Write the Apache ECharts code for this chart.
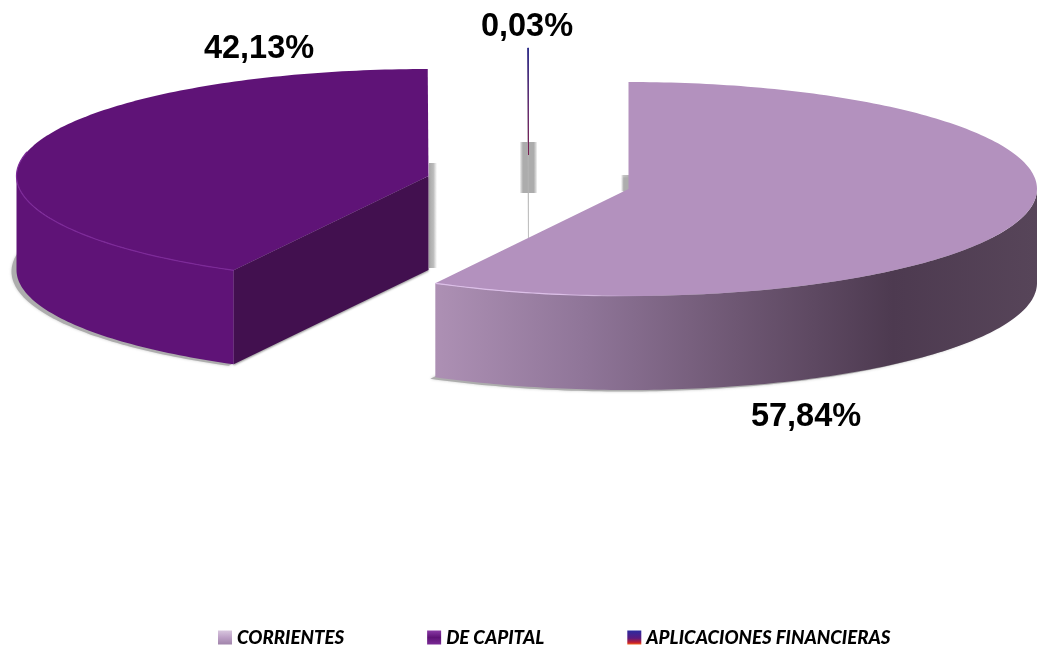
<!DOCTYPE html>
<html><head><meta charset="utf-8">
<style>html,body{margin:0;padding:0;background:#fff}#c{width:1052px;height:651px}</style>
<script src="https://cdn.jsdelivr.net/npm/echarts@6/dist/echarts.min.js"></script>
</head><body><div id="c"></div>
<script>
const categories = ['CORRIENTES', 'DE CAPITAL', 'APLICACIONES FINANCIERAS'];
const values = [57.84, 42.13, 0.03];

const total = values.reduce((a, b) => a + b, 0);
const DEPTH = 94;
const layout = [
  { cx: 628.5, cy: 189, rx: 408.5, ry: 107, lx: 806, ly: 417, z: 3,
    strip: { x: 621, y: 175, w: 8, h: 16, flip: true } },
  { cx: 428.5, cy: 176, rx: 412, ry: 107, lx: 259, ly: 49, z: 1,
    strip: { x: 429, y: 163, w: 8, h: 105 } },
  { cx: 528.5, cy: 155, rx: 408, ry: 107, lx: 527, ly: 27, z: 2,
    strip: { x: 520, y: 142, w: 17, h: 51, both: true } }
];
const grad = (x, y, x2, y2, stops) => ({ type: 'linear', x, y, x2, y2,
  colorStops: stops.map(s => ({ offset: s[0], color: s[1] })) });
const looks = [
  { top: '#b391be', rimRange: [178, 208.2],
    rim: grad(0, 0, 1, 0, [[0, '#dcbfe8'], [0.6, '#dcbfe8'], [1, 'rgba(220,191,232,0)']]),
    wall: grad(0, 0, 1, 0, [[0, '#ad90b4'], [0.25, '#8f7598'], [0.5, '#6e5773'], [0.76, '#4d3a50'], [1, '#574559']]),
    cut: '#8f7598' },
  { top: '#5f1377', rimRange: [208.2, 283], rim: '#7d2a99',
    wall: '#5f1377', cut: '#42104f', cutShadow: true },
  { top: '#4a2a80', stroke: grad(0, 0, 0, 1, [[0, '#2f2f8c'], [0.6, '#6a2a70'], [1, '#7a1f50']]),
    wall: '#a8a8a8', cut: '#b4b4b4' }
];
const legendIcons = [
  grad(0, 0, 0, 1, [[0, '#d8c6de'], [0.5, '#bda0c6'], [1, '#a084aa']]),
  grad(0, 0, 0, 1, [[0, '#8a3aa6'], [0.5, '#5f1377'], [1, '#7a2a95']]),
  grad(0, 0, 0, 1, [[0, '#2b2ba0'], [0.55, '#5a1a80'], [0.85, '#c01e30'], [1, '#f0601a']])
];

const start = [];
values.reduce((acc, v, i) => { start[i] = acc; return acc + v / total * 360; }, 0);

function pt(l, deg, dy) {
  const r = deg * Math.PI / 180;
  return [l.cx + l.rx * Math.sin(r), l.cy - l.ry * Math.cos(r) + (dy || 0)];
}
function arc(l, a, b, dy) {
  const out = [], n = Math.max(1, Math.ceil(Math.abs(b - a)));
  for (let i = 0; i <= n; i++) out.push(pt(l, a + (b - a) * i / n, dy));
  return out;
}

function makeRender(i) {
  return function () {
    const l = layout[i], look = looks[i];
    const a = start[i], b = a + values[i] / total * 360;
    const children = [];
    const s = l.strip;
    // pillar shadow behind the slice
    const stripFill = s.both
      ? grad(0, 0, 1, 0, [[0, 'rgba(150,150,150,0.1)'], [0.18, '#acacac'], [0.8, '#acacac'], [1, 'rgba(150,150,150,0.1)']])
      : s.flip
        ? grad(0, 0, 1, 0, [[0, 'rgba(190,190,190,0)'], [0.3, '#c4c4c4'], [1, '#b4b4b4']])
        : grad(0, 0, 1, 0, [[0, '#a8a8a8'], [0.55, '#bcbcbc'], [1, 'rgba(190,190,190,0)']]);
    children.push({ type: 'rect', shape: { x: s.x, y: s.y, width: s.w, height: s.h }, silent: true,
      style: { fill: stripFill } });
    const wallA = Math.max(a, 90), wallB = Math.min(b, 270);
    // ground shadow, a displaced copy of the bottom face
    if (wallB > wallA) {
      const sh = Object.assign({}, l, { cx: l.cx - 5 });
      children.push({ type: 'polygon', silent: true,
        shape: { points: [[sh.cx, sh.cy + DEPTH + 1.5]].concat(arc(sh, a, b, DEPTH + 1.5)) },
        style: { fill: '#adadad', shadowBlur: 3, shadowColor: 'rgba(150,150,150,0.5)' } });
    }
    // cut face turned towards the viewer
    if (Math.sin(a * Math.PI / 180) < 0) {
      const e = pt(l, a);
      const st = { fill: look.cut };
      if (look.stroke) { st.stroke = look.cut; st.lineWidth = 0.6; }
      if (look.cutShadow) { st.shadowBlur = 2; st.shadowOffsetY = 1.5; st.shadowColor = 'rgba(110,110,110,0.6)'; }
      children.push({ type: 'polygon', silent: true,
        shape: { points: [[l.cx, l.cy], e, [e[0], e[1] + DEPTH], [l.cx, l.cy + DEPTH]] }, style: st });
    }
    // outer wall
    if (wallB > wallA) {
      children.push({ type: 'polygon', silent: true,
        shape: { points: arc(l, wallA, wallB).concat(arc(l, wallB, wallA, DEPTH)) },
        style: { fill: look.wall } });
    }
    // top face
    children.push({ type: 'polygon', silent: true,
      shape: { points: [[l.cx, l.cy]].concat(arc(l, a, b)) },
      style: look.stroke ? { fill: look.top, stroke: look.stroke, lineWidth: 1 } : { fill: look.top } });
    // rim highlight
    if (look.rim) {
      children.push({ type: 'polyline', silent: true,
        shape: { points: arc(l, look.rimRange[0], look.rimRange[1]) },
        style: { fill: null, stroke: look.rim, lineWidth: 1.2 } });
    }
    // percentage label
    children.push({ type: 'text', silent: true, x: l.lx, y: l.ly,
      style: { text: values[i].toFixed(2).replace('.', ',') + '%', fill: '#000', align: 'center', verticalAlign: 'middle',
        font: 'bold 32.5px "Liberation Sans", Arial, sans-serif' } });
    return { type: 'group', children };
  };
}

const chart = echarts.init(document.getElementById('c'), null, { renderer: 'canvas' });
chart.setOption({
  animation: false,
  backgroundColor: '#fff',
  tooltip: { show: false },
  legend: {
    left: 213, top: 623, itemWidth: 14, itemHeight: 14, itemGap: 83, itemStyle: { borderWidth: 0 },
    icon: 'rect', selectedMode: false,
    textStyle: { fontFamily: 'Lato', fontWeight: 900, fontStyle: 'italic', fontSize: 18.7, color: '#000' },
    data: categories.map((name, i) => ({ name, itemStyle: { color: legendIcons[i] } }))
  },
  series: categories.map((name, i) => ({
    type: 'custom', name, coordinateSystem: 'none', z: layout[i].z, clip: false,
    silent: true, data: [values[i]], renderItem: makeRender(i)
  }))
});
</script></body></html>
